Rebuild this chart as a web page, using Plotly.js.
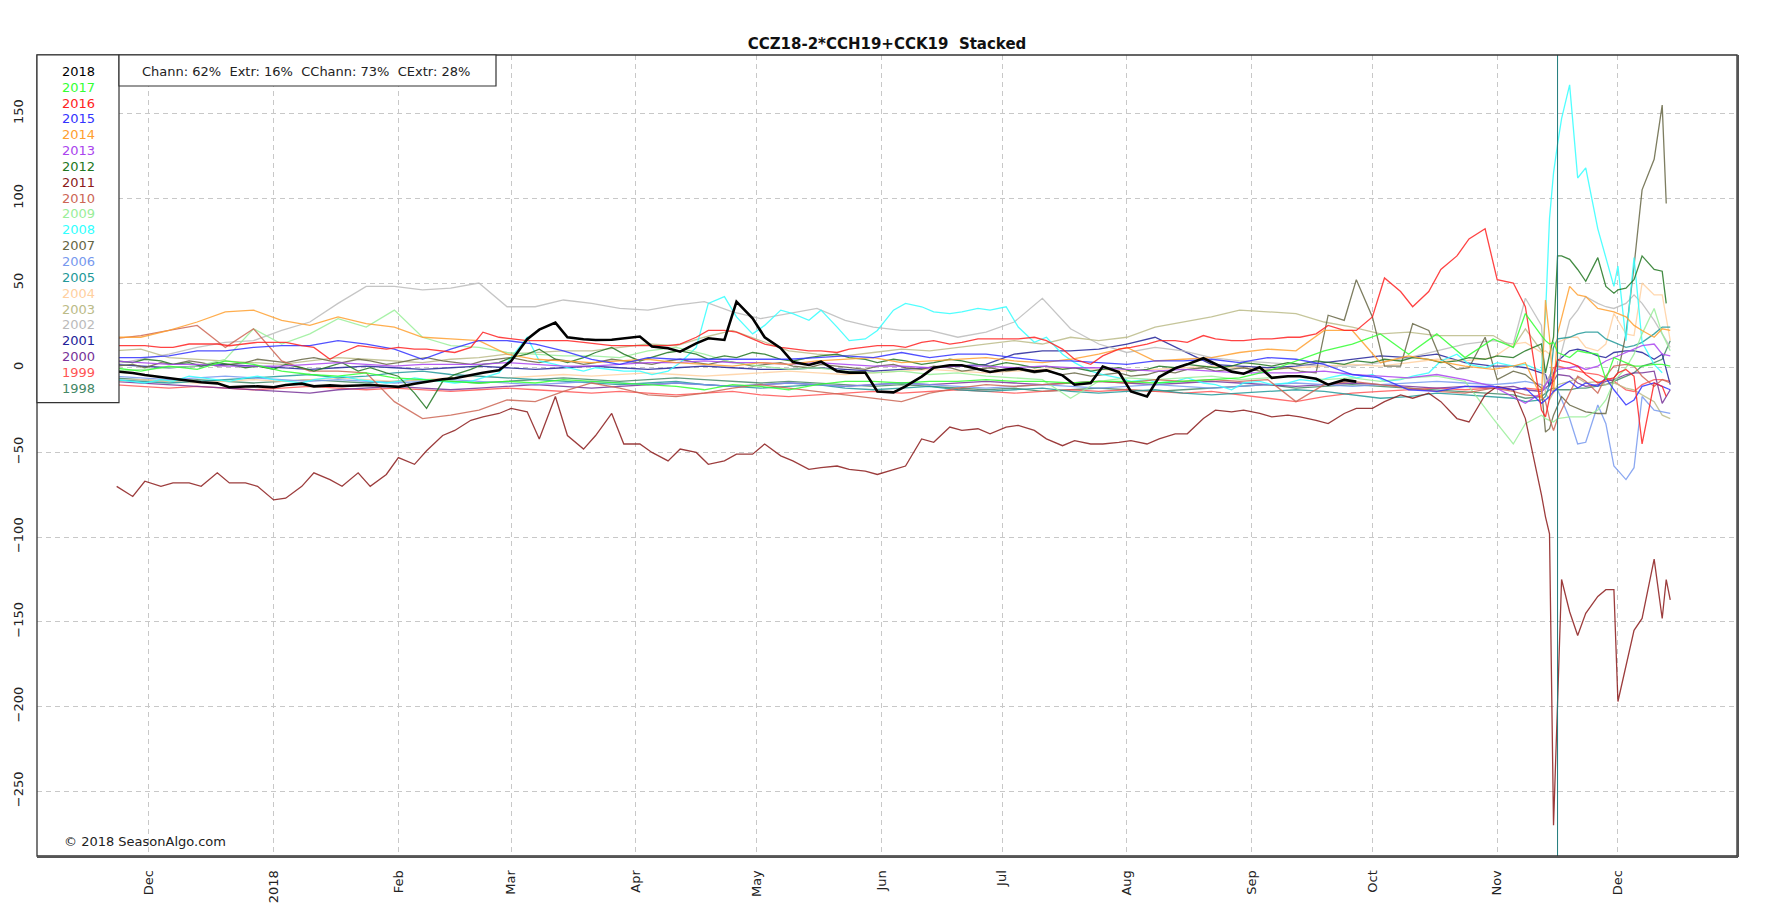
<!DOCTYPE html>
<html><head><meta charset="utf-8">
<script src="https://cdn.plot.ly/plotly-3.0.1.min.js"></script>
<style>html,body{margin:0;padding:0;background:#fff}#chart{width:1768px;height:922px}</style>
</head><body><div id="chart"></div>
<script>
// weekly grid (background years) + denser late-year grid
const datesA = ['2017-11-22','2017-11-29','2017-12-06','2017-12-13','2017-12-20','2017-12-27','2018-01-03','2018-01-10','2018-01-17','2018-01-24','2018-01-31','2018-02-07','2018-02-14','2018-02-21','2018-02-28','2018-03-07','2018-03-14','2018-03-21','2018-03-28','2018-04-04','2018-04-11','2018-04-18','2018-04-25','2018-05-02','2018-05-09','2018-05-16','2018-05-23','2018-05-30','2018-06-06','2018-06-13','2018-06-20','2018-06-27','2018-07-04','2018-07-11','2018-07-18','2018-07-25','2018-08-01','2018-08-08','2018-08-15','2018-08-22','2018-08-29','2018-09-05','2018-09-12','2018-09-19','2018-09-26','2018-10-03','2018-10-10','2018-10-17','2018-10-24','2018-10-31',
'2018-11-05','2018-11-08','2018-11-12','2018-11-13','2018-11-14','2018-11-15','2018-11-16','2018-11-19','2018-11-21','2018-11-23','2018-11-26','2018-11-28','2018-11-30','2018-12-03','2018-12-05','2018-12-07','2018-12-10','2018-12-12','2018-12-14'];

// twice-weekly grid (featured years)
const datesB = ['2017-11-23','2017-11-27','2017-11-30','2017-12-04','2017-12-07','2017-12-11','2017-12-14','2017-12-18','2017-12-21','2017-12-25','2017-12-28',
'2018-01-01','2018-01-04','2018-01-08','2018-01-11','2018-01-15','2018-01-18','2018-01-22','2018-01-25','2018-01-29',
'2018-02-01','2018-02-05','2018-02-08','2018-02-12','2018-02-15','2018-02-19','2018-02-22','2018-02-26',
'2018-03-01','2018-03-05','2018-03-08','2018-03-12','2018-03-15','2018-03-19','2018-03-22','2018-03-26','2018-03-29',
'2018-04-02','2018-04-05','2018-04-09','2018-04-12','2018-04-16','2018-04-19','2018-04-23','2018-04-26','2018-04-30',
'2018-05-03','2018-05-07','2018-05-10','2018-05-14','2018-05-17','2018-05-21','2018-05-24','2018-05-28','2018-05-31',
'2018-06-04','2018-06-07','2018-06-11','2018-06-14','2018-06-18','2018-06-21','2018-06-25','2018-06-28',
'2018-07-02','2018-07-05','2018-07-09','2018-07-12','2018-07-16','2018-07-19','2018-07-23','2018-07-26','2018-07-30',
'2018-08-02','2018-08-06','2018-08-09','2018-08-13','2018-08-16','2018-08-20','2018-08-23','2018-08-27','2018-08-30',
'2018-09-03','2018-09-06','2018-09-10','2018-09-13','2018-09-17','2018-09-20','2018-09-24','2018-09-27',
'2018-10-01','2018-10-04','2018-10-08','2018-10-11','2018-10-15','2018-10-18','2018-10-22','2018-10-25','2018-10-29',
'2018-11-01','2018-11-05','2018-11-08','2018-11-12','2018-11-13','2018-11-14','2018-11-15','2018-11-16','2018-11-17','2018-11-19','2018-11-21','2018-11-23','2018-11-26','2018-11-28','2018-11-30',
'2018-12-01','2018-12-03','2018-12-05','2018-12-07','2018-12-10','2018-12-12','2018-12-13','2018-12-14'];

const y2018 = [-2.2,-3.1,-4.3,-5.5,-6.2,-7.6,-8.6,-9.2,-11.5,-11.1,-11.0,
 -11.5,-10.2,-9.4,-11.0,-10.4,-10.8,-10.5,-10.2,-10.8,
 -11.3,-9.5,-8.2,-6.8,-6.2,-4.3,-2.9,-1.5,
 4,16.8,22.5,26.6,18,16.8,16.4,16.5,17.5,
 18.4,12.5,11.5,9.5,14.4,17.4,16.4,39,29.2,
 18,11.5,3.3,1.6,3.6,-2,-2.9,-2.9,-14,
 -14.5,-11,-5.2,0,1.5,1.5,-0.8,-2.5,
 -1,-0.5,-2.3,-1.5,-4.5,-10,-9,0.7,-2.5,
 -14,-17,-5.5,-0.3,2,5.6,2.2,-2.3,-3.5,
 0.3,-6,-5,-5,-6.5,-10,-7.2,-8.2];

const y2016 = [13,13,13,12,12,14,14,14,13,14,15,
 15,15,13,12,5,9,13,12,11,
 12,11,11,10,9,12,21,18,
 17,16,16,16,16,15,14,13,13,
 13,13,13,14,18,22,22,21,17,
 14,12,11,10,10,9,11,12,13,
 13,12,15,16,14,15,17,17,
 17,17,18,16,11,5,2,7,11,
 12,14,16,16,15,19,17,16,16,
 17,17,18,18,20,25,22,22,
 30,53,45,36,45,58,66,76,82,
 52,50,36,-25,-29,-18,-5,5,4,3,1,-4,-9,-7,-6,
 -3,-1,-5,-45,-9,-11,-17,null];

const y2012 = [4,3,5,4,2,3,1,3,2,0,1,
 -1,2,0,-2,1,3,-2,0,-3,
 -5,-15,-24,-8,-4,-1,2,3,
 6,8,11,5,3,6,9,12,8,
 4,6,9,10,8,5,7,6,9,
 8,5,4,6,7,8,6,5,3,
 5,4,2,3,5,4,2,1,
 3,2,0,1,-1,0,-2,-1,0,
 -2,-1,1,0,2,1,0,1,3,
 2,1,3,2,4,3,2,4,
 3,5,4,6,5,3,4,6,5,
 7,6,10,14,-3,8,18,66,66,64,58,51,65,48,44,
 46,47,52,66,58,57,38,null];

const y2011 = [-70,-76,-67,-70,-68,-68,-70,-62,-68,-68,-70,
 -78,-77,-70,-62,-66,-70,-62,-70,-63,
 -53,-57,-49,-40,-37,-31,-29,-27,
 -24,-26,-42,-17,-40,-48,-40,-27,-45,
 -45,-50,-55,-48,-50,-57,-55,-51,-51,
 -45,-52,-55,-60,-59,-58,-60,-61,-63,
 -60,-58,-42,-44,-35,-37,-36,-39,
 -35,-34,-37,-42,-46,-43,-45,-45,-44,
 -43,-45,-42,-39,-39,-30,-25,-26,-25,
 -27,-29,-28,-29,-31,-33,-27,-24,
 -24,-20,-16,-18,-15,-20,-30,-32,-16,
 -11,-13,-30,-75,-88,-98,-270,-198,-125,-144,-158,-145,-135,-131,-131,
 -197,-175,-155,-148,-113,-148,-125,-137];

const y2008 = [-7,-8,-9,-7,-8,-5,-6,-7,-8,-6,-5,
 -7,-8,-9,-7,-6,-5,-7,-8,-9,
 -8,-6,-7,-8,-9,-8,-6,-3,
 6,18,4,2,0,-2,0,-1,-2,
 -2,-4,-2,3,12,38,42,30,20,
 25,34,32,28,34,24,16,17,22,
 34,38,36,33,32,33,35,34,
 36,24,15,18,8,3,-2,-4,-6,
 -8,-7,-9,-8,-6,-9,-10,-13,-9,
 -8,-10,-9,-7,-8,-6,-4,-6,
 -4,-8,-7,-5,-3,4,8,2,0,
 3,1,2,-2,31,88,115,132,147,167,112,118,82,65,48,
 60,16,65,15,2,-3,null,null];

const y2007 = [1,2,0,3,2,4,3,1,2,3,5,
 4,3,5,6,4,3,5,4,2,
 3,5,6,4,3,2,4,5,
 6,4,3,5,4,2,3,5,4,
 3,2,4,5,3,2,4,3,1,
 2,3,1,0,2,1,0,-1,1,
 2,0,-1,1,0,-2,-1,0,
 -2,-1,-3,-2,-4,-3,-5,-4,-3,
 -5,-4,-2,-3,-1,0,-2,-1,0,
 -2,-1,0,-2,-3,31,28,52,
 30,1,1,26,22,5,-1,0,18,
 -7,-2,-4,-12,-38,-36,-28,-22,-17,-22,-24,-26,-27,-27,-6,
 -3,20,60,105,123,155,97,null];

const y2017 = [0,-2,1,-1,4,2,-2,-4,-5,-3,-6,-7,-8,-9,-8,-9,-7,-8,-9,-10,-11,-13,-10,-11,-13,-10,-8,-8,-9,-8,-8,-7,-8,-8,-9,-8,-8,-9,-8,-7,-6,-2,4,10,14,20,8,20,6,17,
 12,32,19,16,14,15,9,6,10,9,8,-7,6,3,1,1,2,2,1];
const y2015 = [6,6,7,10,10,12,13,13,16,14,11,5,11,16,16,14,10,5,2,6,5,5,5,5,5,6,7,6,9,6,8,8,6,4,4,3,2,4,4,5,3,6,5,2,-4,-6,-13,-14,-11,-11,
 -13,-12,-21,-19,-17,-14,-12,-8,-12,-9,-11,-6,-13,-22,-19,-11,-9,-11,-13];
const y2014 = [18,18,22,27,33,34,28,25,30,26,24,18,17,16,8,5,4,3,4,5,3,2,1,3,2,4,5,6,3,4,5,6,4,3,5,8,12,4,5,6,9,11,10,22,22,3,7,4,1,-1,
 1,3,-18,40,18,-15,20,48,43,42,35,34,33,30,25,22,18,23,22];
const y2013 = [4,3,2,2,1,1,1,2,3,2,1,2,2,2,3,2,1,1,2,3,3,4,3,3,2,3,2,1,1,0,1,1,0,1,0,0,-1,-2,-1,-2,-3,-3,-3,-2,-4,-5,-6,-4,-7,-11,
 -17,-21,-15,-10,-7,-4,-1,0,1,-1,1,4,6,9,11,13,14,8,7];
const y2010 = [17,19,22,25,12,23,4,-2,-2,-3,-20,-30,-28,-25,-19,-20,-14,-9,-12,-16,-17,-15,-12,-10,-12,-14,-16,-18,-20,-15,-12,-10,-11,-10,-9,-8,-9,-7,-8,-7,-8,-7,-20,-10,-8,-10,-12,-14,-15,-12,
 -14,-16,-17,-20,-30,-37,-30,-15,-5,-8,-15,-5,1,2,1,-5,-11,-7,-9];
const y2009 = [-2,-1,0,1,5,23,14,20,29,24,34,18,13,12,9,8,7,7,6,10,12,8,3,1,-1,0,-2,-3,-2,-4,-3,-5,-6,-7,-18,-8,-6,-7,-6,-5,-7,-6,-5,-7,-6,-8,-6,-5,-8,-30,
 -45,-33,-28,-30,-31,-32,-30,-29,-29,-29,-25,-19,-8,0,8,20,35,20,10];
const y2006 = [-5,-6,-7,-6,-5,-6,-7,-8,-7,-8,-9,-8,-7,-8,-9,-10,-9,-8,-9,-10,-9,-10,-11,-10,-9,-10,-11,-10,-9,-10,-11,-12,-11,-10,-11,-12,-11,-10,-11,-12,-11,-10,-9,-10,-11,-10,-9,-8,-9,-10,
 -9,-8,-10,-12,-13,-14,-13,-30,-45,-44,-22,-33,-58,-66,-59,-17,-25,-26,-27];
const y2005 = [-7,-8,-9,-8,-7,-6,-5,-4,-6,-5,-3,-2,-4,-5,-6,-7,-8,-9,-10,-9,-8,-10,-11,-12,-11,-10,-12,-13,-12,-11,-13,-14,-13,-12,-14,-15,-14,-13,-15,-16,-15,-14,-13,-14,-16,-18,-17,-15,-16,-17,
 -18,-20,-19,-17,-10,12,17,18,20,21,21,17,15,12,13,15,20,24,24];
const y2004 = [-8,-7,-8,-9,-8,-7,-8,-7,-6,-7,-8,-7,-6,-5,-6,-5,-4,-5,-4,-3,-4,-5,-4,-3,-2,-3,-4,-3,-2,-1,-2,-3,-2,-1,0,-1,-2,-1,0,1,0,-1,0,1,2,1,3,5,4,6,
 14,15,9,10,8,12,15,18,18,12,10,14,32,20,19,50,43,43,16];
const y2003 = [10,11,6,5,4,3,2,4,6,5,4,3,5,6,8,9,10,10,12,14,13,18,22,16,10,8,7,9,11,10,12,14,16,14,18,16,18,24,27,30,34,33,32,27,24,20,21,19,19,19,
 12,23,10,-15,-19,-14,-10,-8,-6,-9,-8,-10,-9,-12,-13,-16,-20,-28,-30];
const y2002 = [2,5,8,12,15,16,22,27,38,48,48,46,47,50,36,36,40,38,35,34,37,39,33,29,32,35,28,24,22,22,18,21,27,41,23,14,9,12,10,6,4,3,2,1,1,3,6,10,14,16,
 14,41,25,-10,-5,-2,0,28,34,42,38,36,35,38,43,38,28,20,12];
const y2001 = [2,1,0,1,2,1,0,-1,0,1,0,-1,0,1,0,-1,0,1,0,-1,0,1,0,-1,-1,0,-1,-2,-1,0,1,2,8,10,10,11,14,18,10,2,1,0,1,3,5,7,6,8,3,1,
 1,0,-3,-4,-11,-4,4,10,11,10,7,6,9,10,10,9,5,8,-10];
const y2000 = [-8,-9,-10,-11,-12,-13,-14,-15,-13,-12,-11,-12,-13,-12,-11,-10,-11,-12,-11,-10,-9,-10,-11,-10,-9,-10,-11,-10,-9,-10,-9,-8,-9,-10,-9,-8,-9,-10,-9,-8,-9,-10,-11,-10,-9,-10,-11,-12,-11,-12,
 -11,-13,-14,-12,-10,-8,-4,-5,-9,-11,-10,-8,-7,-4,-3,-3,-2,-21,-13];
const y1999 = [-10,-11,-12,-11,-12,-13,-12,-11,-12,-13,-12,-13,-14,-13,-12,-13,-14,-15,-14,-15,-16,-15,-14,-16,-17,-16,-15,-14,-15,-14,-13,-14,-15,-14,-13,-14,-13,-14,-15,-14,-16,-18,-20,-17,-15,-14,-13,-12,-13,-12,
 -13,-12,-13,-10,-5,0,1,-1,-2,-3,-4,-6,-8,-13,-14,-10,-7,-7,-8];
const y1998 = [-6,-7,-8,-7,-8,-9,-8,-7,-8,-9,-8,-7,-8,-9,-8,-7,-6,-7,-8,-7,-6,-7,-8,-9,-8,-9,-10,-11,-10,-11,-12,-13,-12,-14,-13,-12,-13,-14,-13,-12,-11,-10,-12,-11,-10,-11,-12,-13,-14,-15,
 -16,-18,-17,-15,-13,-12,-13,-13,-12,-12,-11,-10,-8,-5,-3,1,3,5,16];

const years = ['2018','2017','2016','2015','2014','2013','2012','2011','2010','2009','2008','2007','2006','2005','2004','2003','2002','2001','2000','1999','1998'];
const yearColors = ['#000000','#33ff33','#ff2222','#3333ff','#ffa030','#aa44ee','#227722','#8b1a1a','#cc6655','#99ee99','#33ffff','#666644','#7799ee','#229999','#ffd0a0','#bbbb88','#bbbbbb','#222299','#773399','#ff5555','#448866'];
const yearX = [datesB,datesA,datesB,datesA,datesA,datesA,datesB,datesB,datesA,datesA,datesB,datesB,datesA,datesA,datesA,datesA,datesA,datesA,datesA,datesA,datesA];
const yearY = [y2018,y2017,y2016,y2015,y2014,y2013,y2012,y2011,y2010,y2009,y2008,y2007,y2006,y2005,y2004,y2003,y2002,y2001,y2000,y1999,y1998];

const monthTicks = ['2017-12-01','2018-01-01','2018-02-01','2018-03-01','2018-04-01','2018-05-01','2018-06-01','2018-07-01','2018-08-01','2018-09-01','2018-10-01','2018-11-01','2018-12-01'];
const monthLabels = ['Dec','2018','Feb','Mar','Apr','May','Jun','Jul','Aug','Sep','Oct','Nov','Dec'];
const yTicks = [150,100,50,0,-50,-100,-150,-200,-250];
const statsText = 'Chann: 62%\u00a0 Extr: 16%\u00a0 CChann: 73%\u00a0 CExtr: 28%';
const titleText = 'CCZ18-2*CCH19+CCK19\u00a0 Stacked';
const markerDate = '2018-11-16';

const traces = [];
for (let i = years.length - 1; i >= 0; i--) {
  const is2018 = i === 0;
  const n = Math.min(yearX[i].length, yearY[i].length);
  traces.push({
    type: 'scatter', mode: 'lines', name: years[i],
    x: yearX[i].slice(0, n), y: yearY[i].slice(0, n),
    line: {color: yearColors[i], width: is2018 ? 2.6 : 1.3},
    opacity: is2018 ? 1 : 0.85,
    hoverinfo: 'skip'
  });
}

// plot geometry in px (for paper-coordinate conversions)
const PL = 37, PT = 55, PW = 1700, PH = 801;
const px = v => (v - PL) / PW;
const py = v => 1 - (v - PT) / PH;

const annotations = years.map((yr, k) => ({
  xref: 'paper', yref: 'paper', x: px(78.5), y: py(71.3 + 15.85 * k),
  xanchor: 'center', yanchor: 'middle', showarrow: false, text: yr,
  font: {family: 'DejaVu Sans', size: 13, color: yearColors[k]}
}));
annotations.push({xref:'paper', yref:'paper', x: px(140), y: py(71), xanchor:'left', yanchor:'middle', showarrow:false,
  text: statsText, font:{family:'DejaVu Sans', size:13, color:'#222'}});
annotations.push({xref:'paper', yref:'paper', x: px(62), y: py(841), xanchor:'left', yanchor:'middle', showarrow:false,
  text: '© 2018 SeasonAlgo.com', font:{family:'DejaVu Sans', size:13, color:'#222'}});

const shapes = [
  {type:'line', xref:'x', yref:'paper', x0: markerDate, x1: markerDate, y0:0, y1:1, line:{color:'#1f7a7a', width:1}, layer:'above'},
  {type:'rect', xref:'paper', yref:'paper', x0:0, x1:1, y0:0, y1:1, line:{color:'#333', width:1.3}, layer:'above'},
  {type:'line', xref:'paper', yref:'paper', x0:1+1/PW, x1:1+1/PW, y0:-1/PH, y1:1, line:{color:'#555', width:2}, layer:'above'},
  {type:'line', xref:'paper', yref:'paper', x0:0, x1:1+1/PW, y0:-1/PH, y1:-1/PH, line:{color:'#555', width:2}, layer:'above'},
  {type:'rect', xref:'paper', yref:'paper', x0:0, x1:px(119), y0:py(402.7), y1:1, fillcolor:'#fff', line:{color:'#333', width:1.2}, layer:'above'},
  {type:'rect', xref:'paper', yref:'paper', x0:px(119), x1:px(496), y0:py(86), y1:1, fillcolor:'#fff', line:{color:'#333', width:1.2}, layer:'above'}
];

const layout = {
  width: 1768, height: 922,
  margin: {l: 37, r: 31, t: 55, b: 66, pad: 0},
  paper_bgcolor: '#fff', plot_bgcolor: '#fff',
  font: {family: 'DejaVu Sans, sans-serif', size: 13, color: '#222'},
  showlegend: false, hovermode: false,
  title: {text: titleText, font: {family: 'DejaVu Sans', size: 15, weight: 'bold', color: '#111'},
    x: 0.5, xref: 'paper', xanchor: 'center', y: 1 - 43.5/922, yref: 'container', yanchor: 'middle'},
  xaxis: {type: 'date', range: ['2017-11-03 05:00', '2018-12-30 14:00'],
    tickmode: 'array', tickvals: monthTicks, ticktext: monthLabels, tickangle: -90,
    showgrid: true, gridcolor: '#c8c8c8', gridwidth: 1, griddash: '5px,4px',
    zeroline: false, showline: false, ticks: 'outside', ticklen: 8, tickcolor: 'rgba(0,0,0,0)',
    automargin: false, tickfont: {family: 'DejaVu Sans', size: 13, color: '#222'}},
  yaxis: {range: [-288.2, 184.6], tickmode: 'array', tickvals: yTicks, tickangle: -90,
    showgrid: true, gridcolor: '#c8c8c8', gridwidth: 1, griddash: '5px,4px',
    zeroline: false, showline: false, ticks: 'outside', ticklen: 8, tickcolor: 'rgba(0,0,0,0)',
    automargin: false, tickfont: {family: 'DejaVu Sans', size: 13, color: '#222'}},
  shapes: shapes,
  annotations: annotations
};

Plotly.newPlot('chart', traces, layout, {displayModeBar: false, staticPlot: true});
</script>
</body></html>
